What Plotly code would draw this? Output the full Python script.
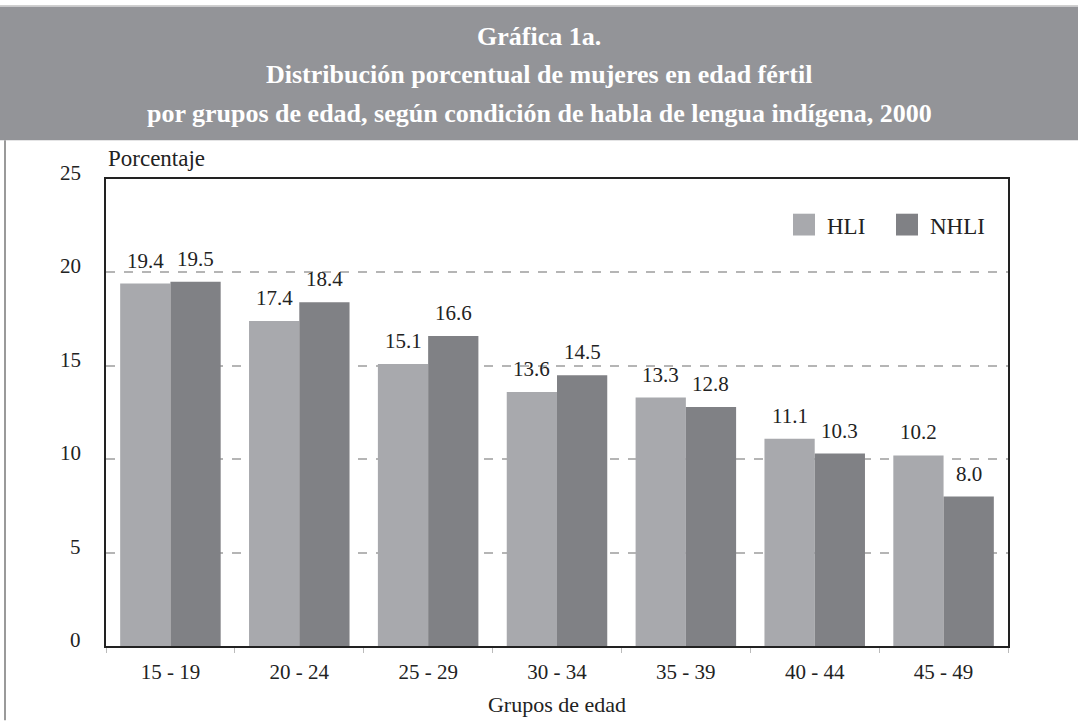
import plotly.graph_objects as go

categories = ["15 - 19", "20 - 24", "25 - 29", "30 - 34", "35 - 39", "40 - 44", "45 - 49"]
series_names = ["HLI", "NHLI"]
hli = [19.4, 17.4, 15.1, 13.6, 13.3, 11.1, 10.2]
nhli = [19.5, 18.4, 16.6, 14.5, 12.8, 10.3, 8.0]
y_ticks = [0, 5, 10, 15, 20, 25]
title_lines = ["Gráfica 1a.",
               "Distribución porcentual de mujeres en edad fértil",
               "por grupos de edad, según condición de habla de lengua indígena, 2000"]

colors = ["#a8a9ad", "#808185"]
FONT = "'Liberation Serif', 'Times New Roman', 'DejaVu Serif', serif"

W, H = 1078, 725
L, R, T, B = 106, 70, 179, 75
pw, ph = W - L - R, H - T - B
BARGAP = 0.22
bar_px = pw / len(categories) * (1 - BARGAP) / 2


def px(x):
    return (x - L) / pw


def py(y):
    return (H - B - y) / ph


fig = go.Figure()
annotations = []
for k, (name, vals, c) in enumerate(zip(series_names, [hli, nhli], colors)):
    fig.add_trace(go.Bar(
        x=categories, y=vals, name=name, marker=dict(color=c, line=dict(width=0)),
        showlegend=False, hoverinfo="x+y",
    ))
    shift = (k - 0.5) * bar_px
    for cat, v in zip(categories, vals):
        annotations.append(dict(x=cat, y=v, text=f"{v:.1f}", xref="x", yref="y",
                                xshift=shift, yshift=9, yanchor="bottom", xanchor="center",
                                showarrow=False, font=dict(family=FONT, size=21, color="#222")))

# y tick labels sit slightly above their gridlines, as in the original
for t in y_ticks:
    annotations.append(dict(x=px(83), y=t, xref="paper", yref="y", text=str(t),
                            xanchor="right", yanchor="middle", yshift=6, showarrow=False,
                            font=dict(family=FONT, size=21, color="#222")))

shapes = [
    dict(type="rect", xref="paper", yref="paper", x0=px(0), x1=px(W), y0=py(140), y1=py(5),
         fillcolor="#939498", line=dict(width=0), layer="below"),
    dict(type="line", xref="paper", yref="paper", x0=px(0), x1=px(W), y0=py(4), y1=py(4),
         line=dict(color="#d0d0d0", width=1)),
    dict(type="line", xref="paper", yref="paper", x0=px(5), x1=px(5), y0=py(140), y1=py(H),
         line=dict(color="#9a9a9a", width=2)),
]
for i, line in enumerate(title_lines):
    annotations.append(dict(text=f"<b>{line}</b>", xref="paper", yref="paper",
                            x=px(W / 2), y=py(35 + i * 39), xanchor="center", yanchor="middle",
                            showarrow=False, font=dict(family=FONT, size=26, color="white")))
annotations.append(dict(text="Porcentaje", xref="paper", yref="paper", x=px(106), y=py(158),
                        xanchor="left", yanchor="middle", showarrow=False,
                        font=dict(family=FONT, size=23, color="#222")))
# manual legend
leg_x = [793, 896]
for name, c, lx in zip(series_names, colors, leg_x):
    shapes.append(dict(type="rect", xref="paper", yref="paper", x0=px(lx), x1=px(lx + 22),
                       y0=py(236), y1=py(214), fillcolor=c, line=dict(width=0)))
    annotations.append(dict(text=name, xref="paper", yref="paper", x=px(lx + 32), y=py(227),
                            xanchor="left", yanchor="middle", showarrow=False,
                            font=dict(family=FONT, size=23, color="#222")))

fig.update_layout(
    width=W, height=H, margin=dict(l=L, r=R, t=T, b=B, pad=0),
    paper_bgcolor="white", plot_bgcolor="white",
    barmode="group", bargap=BARGAP, bargroupgap=0,
    shapes=shapes, annotations=annotations,
    font=dict(family=FONT, color="#222"),
    xaxis=dict(showline=True, linecolor="#222", linewidth=2, mirror=True,
               ticks="outside", tickson="boundaries", ticklen=5, tickcolor="#bbb", tickwidth=1,
               ticklabelstandoff=6,
               tickfont=dict(family=FONT, size=21, color="#222"),
               title=dict(text="Grupos de edad", font=dict(family=FONT, size=22, color="#222"), standoff=13)),
    yaxis=dict(range=[0, 25], tickvals=y_ticks, showline=True, linecolor="#222", linewidth=2,
               mirror=True, showgrid=True, gridcolor="#b5b5b5", griddash="dash", gridwidth=1.5,
               zeroline=False, ticks="", showticklabels=False),
)

fig.write_html("out.html", config={"displayModeBar": False},
               post_script="document.body.style.margin='0';")
